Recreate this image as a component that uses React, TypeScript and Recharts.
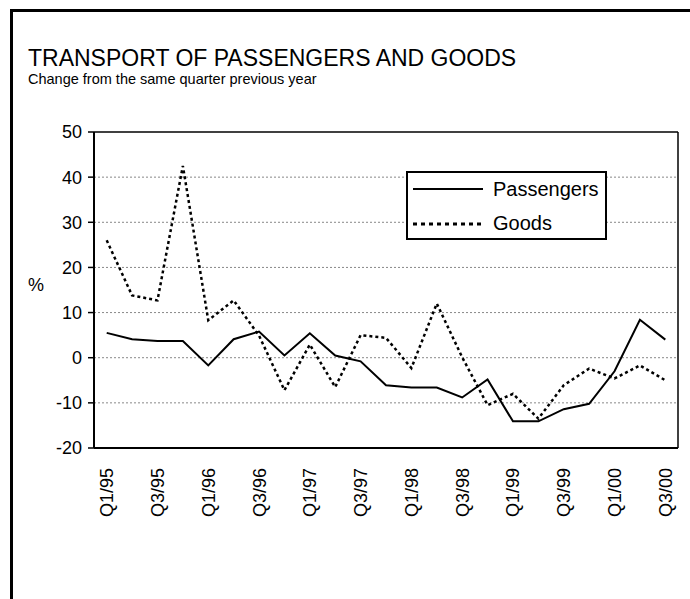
import React from 'react';
import {
  LineChart,
  Line,
  XAxis,
  YAxis,
  ReferenceLine,
  Legend,
} from 'recharts';

const quarters = [
  'Q1/95', 'Q2/95', 'Q3/95', 'Q4/95',
  'Q1/96', 'Q2/96', 'Q3/96', 'Q4/96',
  'Q1/97', 'Q2/97', 'Q3/97', 'Q4/97',
  'Q1/98', 'Q2/98', 'Q3/98', 'Q4/98',
  'Q1/99', 'Q2/99', 'Q3/99', 'Q4/99',
  'Q1/00', 'Q2/00', 'Q3/00',
];

const passengers = [
  5.5, 4.1, 3.7, 3.7, -1.7, 4.1, 5.8, 0.5, 5.4, 0.5, -0.8, -6.1,
  -6.6, -6.6, -8.8, -4.8, -14.1, -14.1, -11.4, -10.2, -3.0, 8.4, 4.0,
];

const goods = [
  26.0, 13.8, 12.7, 42.5, 8.3, 12.7, 4.9, -7.2, 2.9, -6.5, 5.0, 4.4,
  -2.3, 12.0, 0.1, -10.5, -8.0, -13.5, -6.1, -2.4, -4.6, -1.7, -5.0,
];

const yTicks = [-20, -10, 0, 10, 20, 30, 40, 50];
const gridValues = [-10, 0, 10, 20, 30, 40];

const FONT = '"Liberation Sans", Arial, sans-serif';

const data = quarters.map((q, i) => ({
  idx: i,
  quarter: q,
  passengers: passengers[i],
  goods: goods[i],
}));

// tick marks sit on the boundaries between quarters
const boundaryTicks = quarters.map((_, i) => i - 0.5).concat(quarters.length - 0.5);
// labels on every second quarter
const labelTicks = quarters.map((_, i) => i).filter((i) => i % 2 === 0);
const xDomain: [number, number] = [-0.5, quarters.length - 0.5];

const QuarterTick = (props: any) => {
  const { x, y, payload } = props;
  return (
    <text
      x={x}
      y={y + 4}
      dy="0.36em"
      transform={`rotate(-90, ${x}, ${y + 4})`}
      textAnchor="end"
      fontSize={18}
      fontFamily={FONT}
      fill="#000"
    >
      {quarters[payload.value]}
    </text>
  );
};

const renderLegend = () => (
  <svg width={201} height={69} style={{ display: 'block' }}>
    <rect x={1} y={1} width={199} height={67} fill="#fff" stroke="#000" strokeWidth={2} />
    <line x1={7} y1={18} x2={77} y2={18} stroke="#000" strokeWidth={2} />
    <text x={87} y={25} fontSize={20} fontFamily={FONT} fill="#000">Passengers</text>
    <line x1={7} y1={53} x2={77} y2={53} stroke="#000" strokeWidth={3} strokeDasharray="4 4" />
    <text x={87} y={59} fontSize={20} fontFamily={FONT} fill="#000">Goods</text>
  </svg>
);

export default function App() {
  return (
    <div
      style={{
        position: 'absolute',
        left: 0,
        top: 0,
        width: 690,
        height: 599,
        background: '#fff',
        overflow: 'hidden',
        fontFamily: FONT,
      }}
    >
      <div
        style={{
          position: 'absolute',
          left: 10,
          top: 9,
          width: 720,
          height: 640,
          border: '3px solid #000',
        }}
      />
      <svg width={690} height={599} style={{ position: 'absolute', left: 0, top: 0 }}>
        <text x={28} y={66} fontSize={23} fontFamily={FONT} fill="#000">
          TRANSPORT OF PASSENGERS AND GOODS
        </text>
        <text x={28} y={84} fontSize={14.5} fontFamily={FONT} fill="#000">
          Change from the same quarter previous year
        </text>
        <text x={28} y={291} fontSize={18} fontFamily={FONT} fill="#000">%</text>
      </svg>
      <div style={{ position: 'absolute', left: 0, top: 0 }}>
        <LineChart
          width={690}
          height={599}
          data={data}
          margin={{ top: 132, right: 12, bottom: 0, left: 0 }}
        >
          <XAxis
            xAxisId="a"
            dataKey="idx"
            type="number"
            domain={xDomain}
            ticks={boundaryTicks}
            tick={false}
            tickSize={6}
            height={8}
            axisLine={{ stroke: '#000', strokeWidth: 2 }}
            tickLine={{ stroke: '#000', strokeWidth: 1.5 }}
          />
          <XAxis
            xAxisId="b"
            dataKey="idx"
            type="number"
            domain={xDomain}
            ticks={labelTicks}
            interval={0}
            tick={<QuarterTick />}
            tickLine={false}
            axisLine={false}
            height={143}
          />
          <YAxis
            domain={[-20, 50]}
            ticks={yTicks}
            interval={0}
            width={94}
            tickSize={6}
            tickMargin={6}
            axisLine={{ stroke: '#000', strokeWidth: 2 }}
            tickLine={{ stroke: '#000', strokeWidth: 1.5 }}
            tick={{ fill: '#000', fontSize: 18, fontFamily: FONT }}
          />
          {gridValues.map((v) => (
            <ReferenceLine
              key={v}
              xAxisId="a"
              y={v}
              stroke="#888"
              strokeWidth={1}
              strokeDasharray="2 2"
            />
          ))}
          <ReferenceLine xAxisId="a" y={50} stroke="#000" strokeWidth={1.5} />
          <ReferenceLine xAxisId="a" x={quarters.length - 0.5} stroke="#000" strokeWidth={1.5} />
          <Legend
            layout="vertical"
            align="center"
            verticalAlign="middle"
            content={renderLegend}
            wrapperStyle={{ position: 'absolute', left: 406, top: 171, width: 201, height: 69 }}
          />
          <Line
            xAxisId="b"
            dataKey="passengers"
            stroke="none"
            dot={false}
            legendType="none"
            isAnimationActive={false}
          />
          <Line
            xAxisId="a"
            type="linear"
            dataKey="passengers"
            name="Passengers"
            stroke="#000"
            strokeWidth={2}
            dot={false}
            isAnimationActive={false}
          />
          <Line
            xAxisId="a"
            type="linear"
            dataKey="goods"
            name="Goods"
            stroke="#000"
            strokeWidth={2.5}
            strokeDasharray="3 3"
            dot={false}
            isAnimationActive={false}
          />
        </LineChart>
      </div>
    </div>
  );
}
